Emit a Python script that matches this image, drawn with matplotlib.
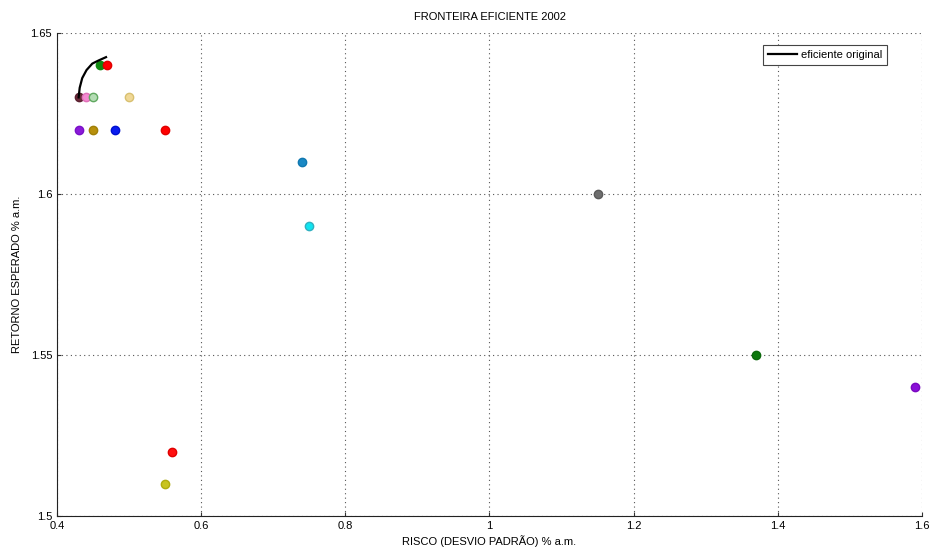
import matplotlib
matplotlib.use('Agg')
import matplotlib.pyplot as plt

# portfolios: risk (x), expected return (y), colour
risco = [0.43, 0.44, 0.45, 0.50, 0.46, 0.47, 0.43, 0.45, 0.48, 0.55,
         0.74, 0.75, 1.15, 1.37, 1.59, 0.56, 0.55]
retorno = [1.63, 1.63, 1.63, 1.63, 1.64, 1.64, 1.62, 1.62, 1.62, 1.62,
           1.61, 1.59, 1.60, 1.55, 1.54, 1.52, 1.51]
cores = ['#6b2a3a', '#f488d0', '#b4dcb4', '#f0d896', '#108a10', '#ff0000',
         '#8a1ad8', '#b8900c', '#0a1cf0', '#ff0000',
         '#1a88c4', '#10e4f0', '#6e6e6e', '#0c780c', '#8a10d8', '#ff1010', '#c8c420']
bordas = ['#5a2030', '#e070b8', '#60a860', '#d8c070', '#108a10', '#e00000',
          '#7a10c8', '#a08008', '#0010d0', '#e00000',
          '#1078b0', '#30b0c0', '#5a5a5a', '#0c680c', '#7a08c0', '#e00000', '#b0ac10']

# original efficient frontier
ef_risco = [0.430, 0.4315, 0.435, 0.441, 0.449, 0.458, 0.468]
ef_retorno = [1.630, 1.6330, 1.6360, 1.6385, 1.6405, 1.6415, 1.6425]

plt.rcParams['font.family'] = ['Liberation Sans', 'DejaVu Sans']

fig = plt.figure(figsize=(9.33, 5.48), dpi=100)
ax = fig.add_axes([57 / 933, 1 - 516 / 548, 865 / 933, 483 / 548])

for x, y, c, e in zip(risco, retorno, cores, bordas):
    ax.plot(x, y, 'o', color=c, markeredgecolor=e, markersize=6, zorder=3)
ax.plot(ef_risco, ef_retorno, color='black', lw=1.6, zorder=4,
        label='eficiente original')

ax.set_xlim(0.4, 1.6)
ax.set_ylim(1.5, 1.65)
ax.set_xticks([0.4, 0.6, 0.8, 1.0, 1.2, 1.4, 1.6])
ax.set_xticklabels(['0.4', '0.6', '0.8', '1', '1.2', '1.4', '1.6'])
ax.set_yticks([1.5, 1.55, 1.6, 1.65])
ax.set_yticklabels(['1.5', '1.55', '1.6', '1.65'])
ax.tick_params(labelsize=8, direction='in', length=3, color='#333333')
ax.grid(True, linestyle=(0, (1, 3)), color='#555555', lw=0.8)
ax.spines['top'].set_visible(False)
ax.spines['right'].set_visible(False)
for s in ['left', 'bottom']:
    ax.spines[s].set_color('#222222')

ax.set_title('FRONTEIRA EFICIENTE 2002', fontsize=8, pad=9)
ax.set_xlabel('RISCO (DESVIO PADRÃO) % a.m.', fontsize=8, labelpad=3)
ax.set_ylabel('RETORNO ESPERADO % a.m.', fontsize=8, labelpad=6)

leg = ax.legend(loc='upper right', bbox_to_anchor=(0.9595, 0.975), fontsize=8,
                borderaxespad=0, fancybox=False, framealpha=1, edgecolor='#444444',
                handlelength=2.6, handletextpad=0.3, borderpad=0.45)
leg.get_frame().set_linewidth(0.8)

fig.savefig('out.png', dpi=100)
